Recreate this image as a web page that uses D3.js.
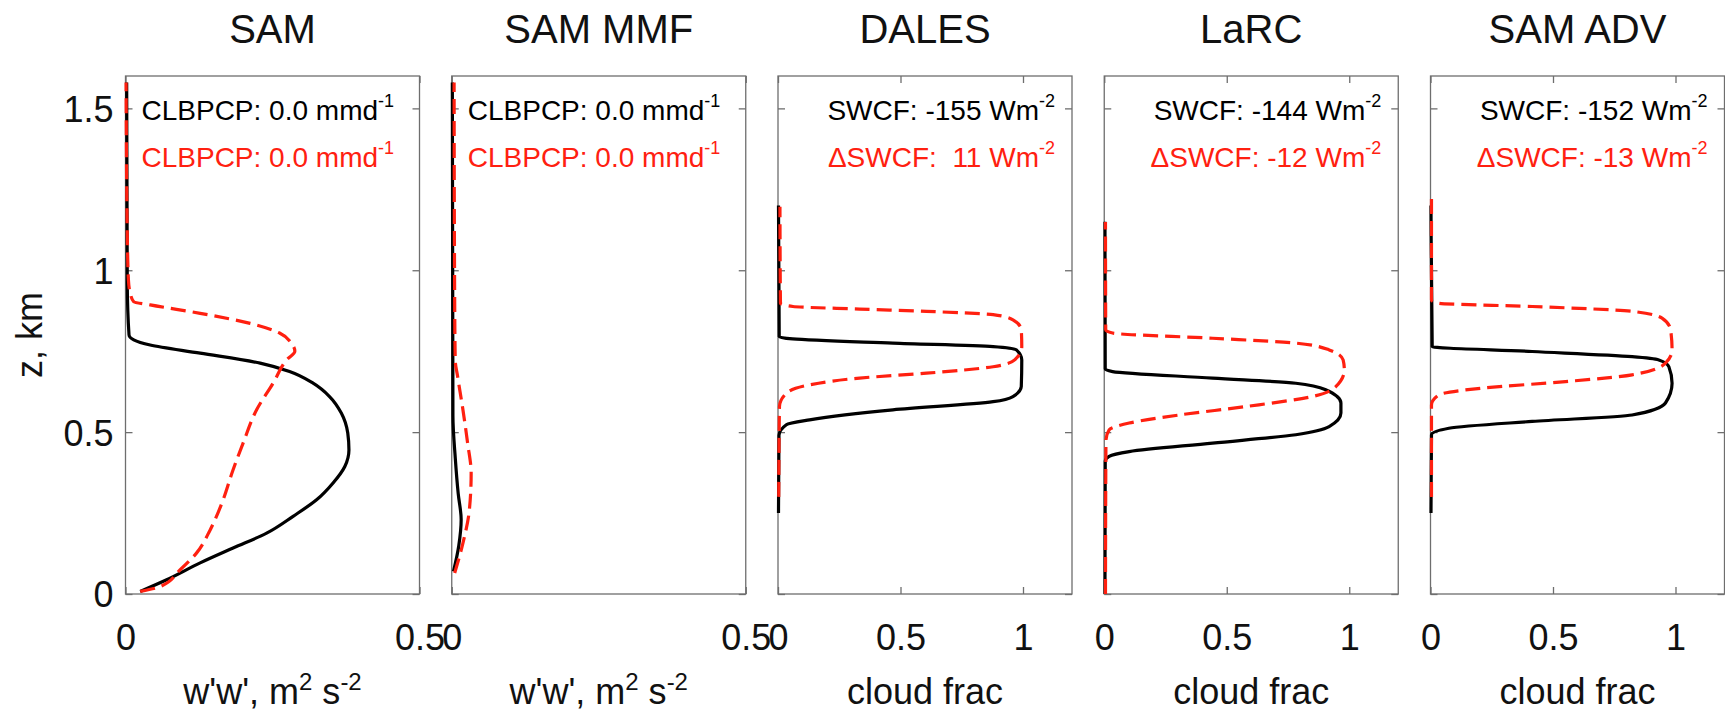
<!DOCTYPE html>
<html>
<head>
<meta charset="utf-8">
<script src="https://cdn.jsdelivr.net/npm/d3@7"></script>
<style>
  body { margin: 0; background: #fff; }
  text { font-family: "Liberation Sans", Arial, Helvetica, sans-serif; }
</style>
</head>
<body>
<script>
// panel titles and axes
const panelNames = ['SAM', 'SAM MMF', 'DALES', 'LaRC', 'SAM ADV']
const xDomains = [[0, 0.5], [0, 0.5], [0, 1.2], [0, 1.2], [0, 1.2]]
const xTickValues = [[0, 0.5], [0, 0.5], [0, 0.5, 1], [0, 0.5, 1], [0, 0.5, 1]]
const yTickValues = [0, 0.5, 1, 1.5]
const yTickLabels = ['0', '0.5', '1', '1.5']
const xLabelKind = ['ww', 'ww', 'cf', 'cf', 'cf']

// annotation text: [black line, red line], [text, superscript]
const notes = [
  [['CLBPCP: 0.0 mmd', '-1'], ['CLBPCP: 0.0 mmd', '-1']],
  [['CLBPCP: 0.0 mmd', '-1'], ['CLBPCP: 0.0 mmd', '-1']],
  [['SWCF: -155 Wm', '-2'], ['\u0394SWCF:  11 Wm', '-2']],
  [['SWCF: -144 Wm', '-2'], ['\u0394SWCF: -12 Wm', '-2']],
  [['SWCF: -152 Wm', '-2'], ['\u0394SWCF: -13 Wm', '-2']]
]

// profiles, [value, z km]; black = solid, red = dashed
const samBlack = [[0.025,0.008],[0.070,0.044],[0.127,0.096],[0.183,0.142],[0.240,0.188],[0.285,0.240],[0.325,0.291],[0.353,0.343],[0.373,0.394],[0.380,0.445],[0.378,0.497],[0.367,0.559],[0.347,0.610],[0.319,0.651],[0.279,0.687],[0.229,0.713],[0.127,0.744],[0.042,0.769],[0.014,0.785],[0.006,0.80],[0.003,0.96],[0.002,1.58]]
const samRed = [[0.025,0.008],[0.059,0.023],[0.093,0.075],[0.121,0.127],[0.144,0.198],[0.164,0.281],[0.183,0.384],[0.200,0.466],[0.223,0.569],[0.251,0.651],[0.274,0.723],[0.288,0.750],[0.282,0.775],[0.262,0.806],[0.212,0.836],[0.127,0.867],[0.042,0.893],[0.014,0.903],[0.008,0.929],[0.005,0.970],[0.003,1.114],[0.001,1.58]]
const mmfBlack = [[0.003,0.07],[0.012,0.15],[0.016,0.23],[0.011,0.31],[0.006,0.42],[0.002,0.55],[0.001,1.58]]
const mmfRed = [[0.005,0.065],[0.019,0.157],[0.030,0.26],[0.033,0.373],[0.027,0.466],[0.019,0.569],[0.010,0.672],[0.006,0.72],[0.005,0.9],[0.004,1.58]]
const dalesBlack = [[0.002,0.25],[0.004,0.49],[0.034,0.523],[0.129,0.538],[0.469,0.569],[0.878,0.594],[0.959,0.610],[0.993,0.641],[0.995,0.723],[0.973,0.754],[0.878,0.764],[0.469,0.775],[0.06,0.788],[0.005,0.795],[0.002,1.2]]
const dalesRed = [[0.003,0.30],[0.006,0.579],[0.034,0.620],[0.129,0.646],[0.333,0.667],[0.606,0.682],[0.878,0.702],[0.966,0.723],[0.995,0.764],[0.993,0.816],[0.959,0.847],[0.878,0.863],[0.606,0.873],[0.333,0.880],[0.061,0.888],[0.01,0.898],[0.008,1.196]]
const larcBlack = [[0.003,0.0],[0.004,0.41],[0.020,0.425],[0.102,0.440],[0.442,0.466],[0.782,0.492],[0.918,0.517],[0.966,0.559],[0.966,0.590],[0.904,0.631],[0.782,0.651],[0.442,0.667],[0.034,0.687],[0.004,0.695],[0.003,1.15]]
const larcRed = [[0.005,0.0],[0.007,0.476],[0.020,0.507],[0.102,0.528],[0.306,0.553],[0.578,0.579],[0.850,0.610],[0.946,0.641],[0.980,0.692],[0.975,0.723],[0.918,0.754],[0.782,0.775],[0.442,0.790],[0.034,0.806],[0.006,0.816],[0.005,1.149]]
const advBlack = [[0.002,0.25],[0.004,0.492],[0.075,0.512],[0.415,0.533],[0.823,0.553],[0.959,0.590],[0.986,0.651],[0.973,0.702],[0.932,0.723],[0.823,0.733],[0.415,0.749],[0.007,0.764],[0.002,1.2]]
const advRed = [[0.004,0.30],[0.004,0.584],[0.034,0.615],[0.211,0.636],[0.551,0.656],[0.823,0.677],[0.959,0.713],[0.986,0.754],[0.980,0.816],[0.945,0.852],[0.823,0.873],[0.415,0.888],[0.034,0.898],[0.004,0.908],[0.004,1.238]]

const blackSeries = [samBlack, mmfBlack, dalesBlack, larcBlack, advBlack]
const redSeries = [samRed, mmfRed, dalesRed, larcRed, advRed]

const width = 1725
const height = 718
const svg = d3.select('body').append('svg')
  .attr('width', width)
  .attr('height', height)

const plotTop = 76, plotBottom = 594, panelW = 294
const left0 = 125.5, step = 326.25
const boxColor = '#6e6e6e'
const red = '#ff2010'

const y = d3.scaleLinear().domain([0, 1.6]).range([plotBottom, plotTop])

panelNames.forEach((name, i) => {
  const x0 = left0 + i * step
  const x = d3.scaleLinear().domain(xDomains[i]).range([x0, x0 + panelW])
  const g = svg.append('g')

  // box
  g.append('rect')
    .attr('x', x0).attr('y', plotTop)
    .attr('width', panelW).attr('height', plotBottom - plotTop)
    .attr('fill', 'none').attr('stroke', boxColor).attr('stroke-width', 1.3)

  // ticks, inward
  const axB = g.append('g').attr('transform', `translate(0,${plotBottom})`)
    .call(d3.axisBottom(x).tickValues(xTickValues[i]).tickSizeInner(-7).tickSizeOuter(0).tickPadding(30)
      .tickFormat(d => String(d)))
  const axT = g.append('g').attr('transform', `translate(0,${plotTop})`)
    .call(d3.axisTop(x).tickValues(xTickValues[i]).tickSizeInner(-7).tickSizeOuter(0).tickFormat(''))
  const axL = g.append('g').attr('transform', `translate(${x0},0)`)
    .call(d3.axisLeft(y).tickValues(yTickValues).tickSizeInner(-7).tickSizeOuter(0).tickPadding(12)
      .tickFormat((d, k) => i === 0 ? yTickLabels[k] : ''))
  const axR = g.append('g').attr('transform', `translate(${x0 + panelW},0)`)
    .call(d3.axisRight(y).tickValues(yTickValues).tickSizeInner(-7).tickSizeOuter(0).tickFormat(''))
  ;[axB, axT, axL, axR].forEach(a => {
    a.select('.domain').remove()
    a.selectAll('line').attr('stroke', boxColor).attr('stroke-width', 1.3)
    a.selectAll('text').attr('fill', '#111').style('font-size', '36px')
      .style('font-family', '"Liberation Sans", Arial, sans-serif')
  })
  axL.selectAll('text').attr('dy', '0.36em')

  // title
  g.append('text')
    .attr('x', x0 + panelW / 2).attr('y', 43)
    .attr('text-anchor', 'middle')
    .style('font-size', '40px').attr('fill', '#111')
    .text(name)

  // x label
  const xl = g.append('text')
    .attr('x', x0 + panelW / 2)
    .attr('y', 704)
    .attr('text-anchor', 'middle')
    .style('font-size', '36px').attr('fill', '#111')
  if (xLabelKind[i] === 'ww') {
    xl.append('tspan').text("w'w', m")
    xl.append('tspan').attr('dy', -14).style('font-size', '24px').text('2')
    xl.append('tspan').attr('dy', 14).text(' s')
    xl.append('tspan').attr('dy', -14).style('font-size', '24px').text('-2')
  } else {
    xl.text('cloud frac')
  }

  // annotations
  notes[i].forEach((n, k) => {
    const t = g.append('text')
      .attr('y', 120 + k * 47)
      .attr('fill', k === 0 ? '#000' : red)
      .style('font-size', '28px')
      .style('white-space', 'pre')
    if (i < 2) t.attr('x', x0 + 16)
    else t.attr('x', x0 + panelW - 17).attr('text-anchor', 'end')
    t.append('tspan').text(n[0])
    t.append('tspan').attr('dy', -13).style('font-size', '18px').text(n[1])
  })

  // profiles, z is monotonic along each series
  const line = d3.line()
    .x(d => x(d[0]))
    .y(d => y(d[1]))
    .curve(d3.curveMonotoneY)

  g.append('path')
    .attr('d', line(blackSeries[i]))
    .attr('fill', 'none')
    .attr('stroke', '#000')
    .attr('stroke-width', 3.2)
  g.append('path')
    .attr('d', line(redSeries[i]))
    .attr('fill', 'none')
    .attr('stroke', red)
    .attr('stroke-width', 3.2)
    .attr('stroke-dasharray', '15,7')
})

// y label
svg.append('text')
  .attr('transform', `translate(42,${(plotTop + plotBottom) / 2}) rotate(-90)`)
  .attr('text-anchor', 'middle')
  .style('font-size', '36px').attr('fill', '#111')
  .text('z, km')
</script>
</body>
</html>
